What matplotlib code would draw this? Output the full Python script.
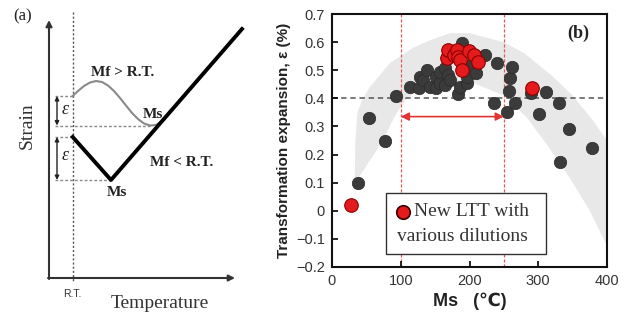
import numpy as np
import matplotlib
matplotlib.use("Agg")
import matplotlib.pyplot as plt
from matplotlib.patches import Rectangle

plt.rcParams['font.family'] = ['Liberation Sans', 'DejaVu Sans']

# ---------------- data: panel (b) ----------------
black_x = [38, 54, 77, 93, 114, 126, 128, 133, 138, 143, 152, 152, 157, 157, 164, 165, 169, 172, 184, 186,
           189, 196, 196, 201, 210, 223, 235, 240, 254, 257, 259, 262, 266, 289, 301, 311, 330, 345, 332, 378]
black_y = [0.10, 0.33, 0.25, 0.41, 0.44, 0.435, 0.477, 0.465, 0.50, 0.44, 0.477, 0.436, 0.453, 0.495, 0.447,
           0.507, 0.483, 0.465, 0.415, 0.441, 0.596, 0.453, 0.477, 0.518, 0.49, 0.554, 0.382, 0.525, 0.35,
           0.427, 0.474, 0.51, 0.385, 0.42, 0.345, 0.424, 0.382, 0.29, 0.174, 0.222]
red_x = [28, 167, 169, 177, 182, 184, 186, 189, 199, 206, 213, 291]
red_y = [0.02, 0.542, 0.572, 0.554, 0.572, 0.548, 0.536, 0.50, 0.568, 0.554, 0.528, 0.437]

band_outer_x = [33, 34, 37, 45, 55, 84, 118, 143, 172, 200, 249, 280, 320, 350, 380, 400, 440]
band_outer_y = [0.10, 0.25, 0.35, 0.40, 0.44, 0.525, 0.58, 0.607, 0.632, 0.632, 0.60, 0.56, 0.48, 0.41, 0.32, 0.25, 0.0]
band_inner_x = [34, 50, 74, 90, 105, 128, 160, 200, 250, 284, 317, 345, 375, 405]
band_inner_y = [0.10, 0.16, 0.25, 0.33, 0.39, 0.44, 0.46, 0.46, 0.41, 0.33, 0.22, 0.12, 0.0, -0.15]

x_ticks = [0, 100, 200, 300, 400]
y_ticks = [-0.2, -0.1, 0, 0.1, 0.2, 0.3, 0.4, 0.5, 0.6, 0.7]
y_ticklabels = ['\u22120.2', '\u22120.1', '0', '0.1', '0.2', '0.3', '0.4', '0.5', '0.6', '0.7']
window_lo, window_hi = 100, 250
eps_threshold = 0.4
arrow_y = 0.335

# ---------------- data: panel (a) schematic ----------------
upper_x = [72.7, 78, 84, 90, 96, 102, 108, 114, 120, 126, 132, 138, 144, 150, 156, 162, 168, 173]
upper_y = [96, 91, 86, 82.5, 81, 82, 85.5, 91, 98, 105.5, 113, 119, 123.5, 125.5, 125, 121, 114.5, 108.5]
lower_x = [72.7, 111, 242]
lower_y = [137, 180, 29]
rt_x = 72.7

fig = plt.figure(figsize=(6.27, 3.21), dpi=100)

# ================= panel (a) =================
axa = fig.add_axes([0, 0, 245 / 627, 1])
axa.set_xlim(0, 245)
axa.set_ylim(321, 0)
axa.axis('off')
serif = ['Liberation Serif', 'DejaVu Serif']

axa.annotate('', xy=(49, 20), xytext=(49, 279),
             arrowprops=dict(arrowstyle='-|>', color='#333333', lw=1.5, mutation_scale=9, shrinkA=0, shrinkB=0))
axa.annotate('', xy=(235, 278), xytext=(48, 278),
             arrowprops=dict(arrowstyle='-|>', color='#333333', lw=1.5, mutation_scale=9, shrinkA=0, shrinkB=0))
axa.plot([rt_x, rt_x], [12, 282], color='#555555', lw=1.0, ls=(0, (1.5, 1.5)))
gcol = '#888888'
axa.plot([55, upper_x[0]], [upper_y[0], upper_y[0]], color=gcol, lw=1, ls=(0, (2, 1.5)))
axa.plot([55, 150], [125.5, 125.5], color=gcol, lw=1, ls=(0, (2, 1.5)))
axa.plot([55, lower_x[0]], [lower_y[0], lower_y[0]], color=gcol, lw=1, ls=(0, (2, 1.5)))
axa.plot([55, lower_x[1]], [lower_y[1], lower_y[1]], color=gcol, lw=1, ls=(0, (2, 1.5)))
for y0, y1 in [(upper_y[0], 125.5), (lower_y[0], lower_y[1])]:
    axa.annotate('', xy=(57, y0), xytext=(57, y1),
                 arrowprops=dict(arrowstyle='<|-|>', color='#222222', lw=1.0, mutation_scale=6, shrinkA=0, shrinkB=0))
axa.text(65, 110, '\u03b5', fontsize=13, fontstyle='italic', family=serif, ha='center', va='center', color='#222222')
axa.text(65, 155, '\u03b5', fontsize=13, fontstyle='italic', family=serif, ha='center', va='center', color='#222222')
axa.plot(upper_x, upper_y, color='#8a8a8a', lw=1.5)
axa.plot(lower_x, lower_y, color='black', lw=2.8, solid_joinstyle='round')
axa.text(23, 16, '(a)', fontsize=12, family=serif, ha='center', va='center', color='#222222')
axa.text(27, 126, 'Strain', fontsize=14, family=serif, rotation=90, ha='center', va='center', color='#333333')
axa.text(rt_x, 294, 'R.T.', fontsize=7.5, ha='center', va='center', color='#333333')
axa.text(160, 304, 'Temperature', fontsize=14, family=serif, ha='center', va='center', color='#333333')
axa.text(123, 72, 'Mf > R.T.', fontsize=11, family=serif, ha='center', va='center', color='#222222', fontweight='bold')
axa.text(153, 115, 'Ms', fontsize=11, family=serif, ha='center', va='center', color='#222222', fontweight='bold')
axa.text(182, 163, 'Mf < R.T.', fontsize=11, family=serif, ha='center', va='center', color='#222222', fontweight='bold')
axa.text(117, 192, 'Ms', fontsize=11, family=serif, ha='center', va='center', color='#222222', fontweight='bold')

# ================= panel (b) =================
ax = fig.add_axes([332 / 627, 1 - 267 / 321, 275 / 627, 253 / 321])
ax.set_xlim(0, 400)
ax.set_ylim(-0.2, 0.7)

bx = list(band_outer_x) + list(band_inner_x[::-1])
by = list(band_outer_y) + list(band_inner_y[::-1])
ax.fill(bx, by, color='#e8e8e8', lw=0, zorder=0)

ax.axhline(eps_threshold, color='#555555', lw=1.1, ls=(0, (3.5, 2.5)), zorder=1)
for xv in (window_lo, window_hi):
    ax.axvline(xv, color='#e05a5a', lw=0.9, ls=(0, (2.5, 1.5)), zorder=1)

ax.scatter(black_x, black_y, s=80, color='#3b3b3b', edgecolors='#2a2a2a', linewidths=0.5, zorder=3)
ax.scatter(red_x, red_y, s=95, color='#e41a1c', edgecolors='#8b0000', linewidths=0.8, zorder=4)

ax.annotate('', xy=(window_lo, arrow_y), xytext=(window_hi, arrow_y),
            arrowprops=dict(arrowstyle='<|-|>', color='#e03535', lw=1.2, mutation_scale=12, shrinkA=0, shrinkB=0),
            zorder=5)

# legend box (manual)
ax.add_patch(Rectangle((79, -0.152), 232, 0.215, facecolor='white', edgecolor='#333333', lw=1.0, zorder=6))
ax.scatter([103], [-0.004], s=95, color='#e41a1c', edgecolors='#3a0000', linewidths=1.2, zorder=7)
ax.text(119, -0.004, 'New LTT with', fontsize=14, family=serif, ha='left', va='center', color='#333333', zorder=7)
ax.text(94, -0.092, 'various dilutions', fontsize=14, family=serif, ha='left', va='center', color='#333333', zorder=7)

ax.text(358, 0.632, '(b)', fontsize=13, family=serif, fontweight='bold', ha='center', va='center', color='#222222')

ax.set_xticks(x_ticks)
ax.set_yticks(y_ticks)
ax.set_yticklabels(y_ticklabels)
ax.tick_params(direction='in', length=4, width=1.2, labelsize=10.5, labelcolor='#333333', pad=5)
for s in ax.spines.values():
    s.set_linewidth(1.5)
    s.set_color('#111111')

ax.set_ylabel('Transformation expansion, \u03b5 (%)', fontsize=11, fontweight='bold', color='#222222', labelpad=4)
ax.set_xlabel('Ms   (\u2103)', fontsize=13, fontweight='bold', color='#222222', labelpad=3,
              family=['Liberation Sans', 'DejaVu Sans'])

fig.savefig('out.png', dpi=100)
